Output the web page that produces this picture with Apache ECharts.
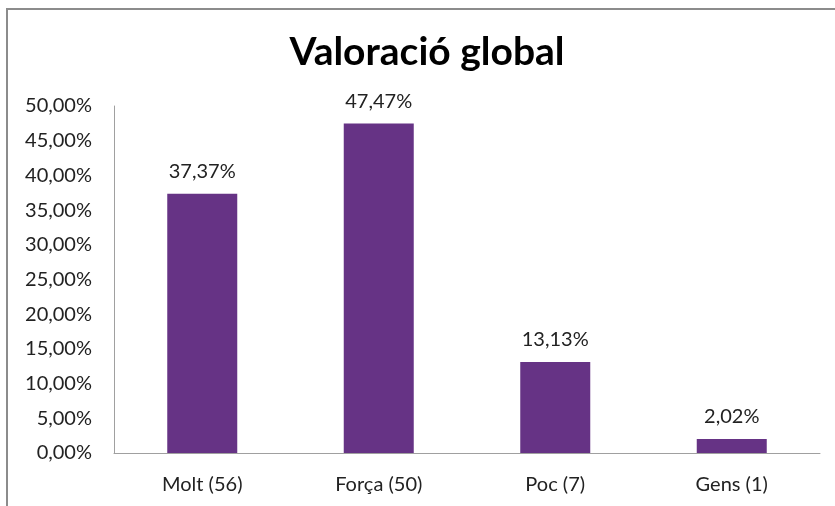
<!DOCTYPE html>
<html>
<head>
<meta charset="utf-8">
<script src="https://cdn.jsdelivr.net/npm/echarts@6/dist/echarts.min.js"></script>
<style>
html,body{margin:0;padding:0;background:#fff;}
#c{width:835px;height:506px;}
</style>
</head>
<body>
<div id="c"></div>
<script>
var categories = ['Molt (56)', 'Força (50)', 'Poc (7)', 'Gens (1)'];
var values = [37.37, 47.47, 13.13, 2.02];
var titleText = 'Valoració global';

function fmt(v) {
  return v.toFixed(2).replace('.', ',') + '%';
}

var chart = echarts.init(document.getElementById('c'));
chart.setOption({
  animation: false,
  backgroundColor: '#fff',
  graphic: [{
    type: 'rect',
    shape: {x: 7, y: 9, width: 900, height: 600},
    style: {fill: 'none', stroke: '#8c8c8c', lineWidth: 2},
    silent: true
  }],
  title: {
    text: titleText,
    left: 422,
    textAlign: 'center',
    top: 28,
    textStyle: {fontFamily: 'Lato', fontWeight: 'bold', fontSize: 39, color: '#000'}
  },
  grid: {left: 114, right: 15, top: 106, bottom: 53},
  xAxis: {
    type: 'category',
    data: categories,
    axisLine: {lineStyle: {color: '#a0a0a0', width: 1}},
    axisTick: {show: false},
    axisLabel: {fontFamily: 'Lato', fontSize: 20, color: '#222', margin: 22}
  },
  yAxis: {
    type: 'value',
    min: 0,
    max: 50,
    interval: 5,
    axisLine: {show: true, lineStyle: {color: '#a0a0a0', width: 1}},
    axisTick: {show: false},
    splitLine: {show: false},
    axisLabel: {fontFamily: 'Lato', fontSize: 20, color: '#222', margin: 22, formatter: fmt}
  },
  series: [{
    type: 'bar',
    data: values,
    barWidth: 70,
    itemStyle: {color: '#663385'},
    label: {
      show: true,
      position: 'top',
      distance: 12,
      fontFamily: 'Lato',
      fontSize: 20,
      color: '#222',
      formatter: function (p) { return fmt(p.value); }
    }
  }]
});
</script>
</body>
</html>
